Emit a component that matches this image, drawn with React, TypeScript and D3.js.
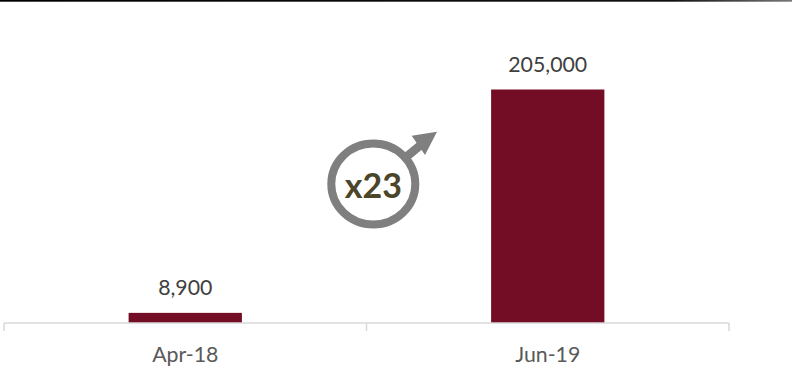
import React from "react";
import * as d3 from "d3";

const categories = ["Apr-18", "Jun-19"];
const values = [8900, 205000];
const multiplierLabel = "x23";

const WIDTH = 792;
const HEIGHT = 369;
const FONT = "Lato, 'Open Sans', sans-serif";

export default function App() {
  const x = d3.scaleBand<string>().domain(categories).range([4, 729]).paddingInner(0.6875).paddingOuter(0.34375);
  const y = d3.scaleLinear().domain([0, 205000]).range([323, 89.5]);
  const fmt = d3.format(",");
  const slots = d3.scaleBand<string>().domain(categories).range([4, 729]);
  const tickXs = [4, slots(categories[1]) as number, 729];

  // Growth badge: ring with an arrow leaving its upper right edge
  const cx = 373.3;
  const cy = 184;
  const angle = Math.atan2(131.7 - cy, 437 - cx);
  const arrow = d3.line()([
    [cx + 40 * Math.cos(angle), cy + 40 * Math.sin(angle)],
    [cx + 62 * Math.cos(angle), cy + 62 * Math.sin(angle)],
  ]);

  return (
    <svg
      width={WIDTH}
      height={HEIGHT}
      viewBox={`0 0 ${WIDTH} ${HEIGHT}`}
      style={{ position: "absolute", left: 0, top: 0, background: "#fff" }}
      fontFamily={FONT}
    >
      <defs>
        <linearGradient id="topRule" x1="0" x2="1" y1="0" y2="0">
          <stop offset="0" stopColor="#000" />
          <stop offset="0.85" stopColor="#111" />
          <stop offset="1" stopColor="#777" />
        </linearGradient>
      </defs>
      <rect x={0} y={0} width={WIDTH} height={1.7} fill="url(#topRule)" />

      {categories.map((c, i) => (
        <g key={c}>
          <rect
            x={x(c)}
            y={y(values[i])}
            width={x.bandwidth()}
            height={y(0) - y(values[i])}
            fill="#720d25"
          />
          <text
            x={(x(c) as number) + x.bandwidth() / 2}
            y={y(values[i]) - 18}
            textAnchor="middle"
            fontSize={21.3}
            fill="#404040"
          >
            {fmt(values[i])}
          </text>
          <text
            x={(x(c) as number) + x.bandwidth() / 2}
            y={362}
            textAnchor="middle"
            fontSize={21.3}
            fill="#595959"
          >
            {c}
          </text>
        </g>
      ))}

      <line x1={4} x2={729} y1={y(0)} y2={y(0)} stroke="#d9d9d9" strokeWidth={1.5} />
      {tickXs.map((t) => (
        <line key={t} x1={t} x2={t} y1={y(0)} y2={331} stroke="#d9d9d9" strokeWidth={1.5} />
      ))}

      <path d={arrow ?? ""} stroke="#7f7f7f" strokeWidth={8.5} fill="none" />
      <path d="M437,131.7 L411.7,135.7 L425,155 Z" fill="#7f7f7f" />
      <ellipse cx={cx} cy={cy} rx={42} ry={40.5} fill="#fff" stroke="#7f7f7f" strokeWidth={8} />
      <text x={cx} y={198} textAnchor="middle" fontSize={34} fontWeight={700} fill="#4b4529">
        {multiplierLabel}
      </text>
    </svg>
  );
}
